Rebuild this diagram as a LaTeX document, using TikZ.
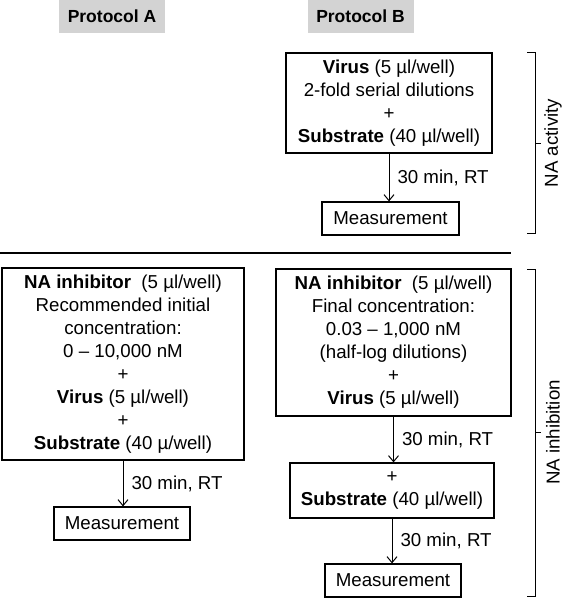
\documentclass[tikz,border=0pt]{standalone}
\usepackage{fontspec}
\setmainfont{Liberation Sans}
\usetikzlibrary{arrows.meta}
\definecolor{headgray}{RGB}{211,211,211}

\begin{document}
\begin{tikzpicture}[x=1pt,y=-1pt,>={Straight Barb[length=6pt,width=10pt]},
    every node/.style={font=\fontsize{18.7}{23}\selectfont},
    box/.style={draw,line width=1.2pt,align=center,inner sep=0pt},
    header/.style={fill=headgray,inner sep=0pt,minimum width=106pt,minimum height=33pt,
        font=\fontsize{17.5}{21}\selectfont\bfseries}]
    \useasboundingbox (0,0) rectangle (566,599);

    % protocol headers
    \node[header] (protA) at (112,16.5) {Protocol A};
    \node[header] (protB) at (360.5,16.5) {Protocol B};

    % NA activity (protocol B only)
    \node[box,minimum width=206pt,minimum height=100pt] (virusB) at (389,103)
        {\textbf{Virus} (5 µl/well)\\2-fold serial dilutions\\+\\\textbf{Substrate} (40 µl/well)};
    \node[box,minimum width=137pt,minimum height=33pt] (measT) at (390.5,218.5) {Measurement};

    % separating line
    \draw[line width=1.5pt] (0,253) -- (511,253);

    % NA inhibition, protocol A
    \node[box,minimum width=242pt,minimum height=192pt] (inhA) at (123,364)
        {\textbf{NA inhibitor}\ \ (5 µl/well)\\Recommended initial\\concentration:\\0 – 10,000 nM\\+\\
         \textbf{Virus} (5 µl/well)\\+\\\textbf{Substrate} (40 µ/well)};
    \node[box,minimum width=136pt,minimum height=33pt] (measA) at (122,523.5) {Measurement};

    % NA inhibition, protocol B
    \node[box,minimum width=235pt,minimum height=147pt] (inhB) at (393.5,342.5)
        {\textbf{NA inhibitor}\ \ (5 µl/well)\\Final concentration:\\0.03 – 1,000 nM\\(half-log dilutions)\\+\\
         \textbf{Virus} (5 µl/well)};
    \node[box,minimum width=204pt,minimum height=55pt] (subB) at (392,490.5)
        {+\\\textbf{Substrate} (40 µl/well)};
    \node[box,minimum width=136pt,minimum height=33pt] (measB) at (393,580.5) {Measurement};

    % incubation steps
    \foreach \from/\to in {virusB/measT, inhA/measA, inhB/subB, subB/measB}
        \draw[->,line width=1pt] (\from.south) -- (\from.south |- \to.north)
            node[midway,right=8pt,inner sep=0pt] (step\from) {30 min, RT};

    % side brackets
    \foreach \ya/\yb/\lab in {53/233/NA activity, 269/596/NA inhibition} {
        \draw[line width=1pt] (527,\ya) -- (535,\ya) -- (535,\yb) -- (527,\yb);
        \draw[line width=1pt] (535,{(\ya+\yb)/2}) -- (541,{(\ya+\yb)/2});
        \node[rotate=90] (side\ya) at (553,{(\ya+\yb)/2}) {\lab};
    }
\end{tikzpicture}
\end{document}
